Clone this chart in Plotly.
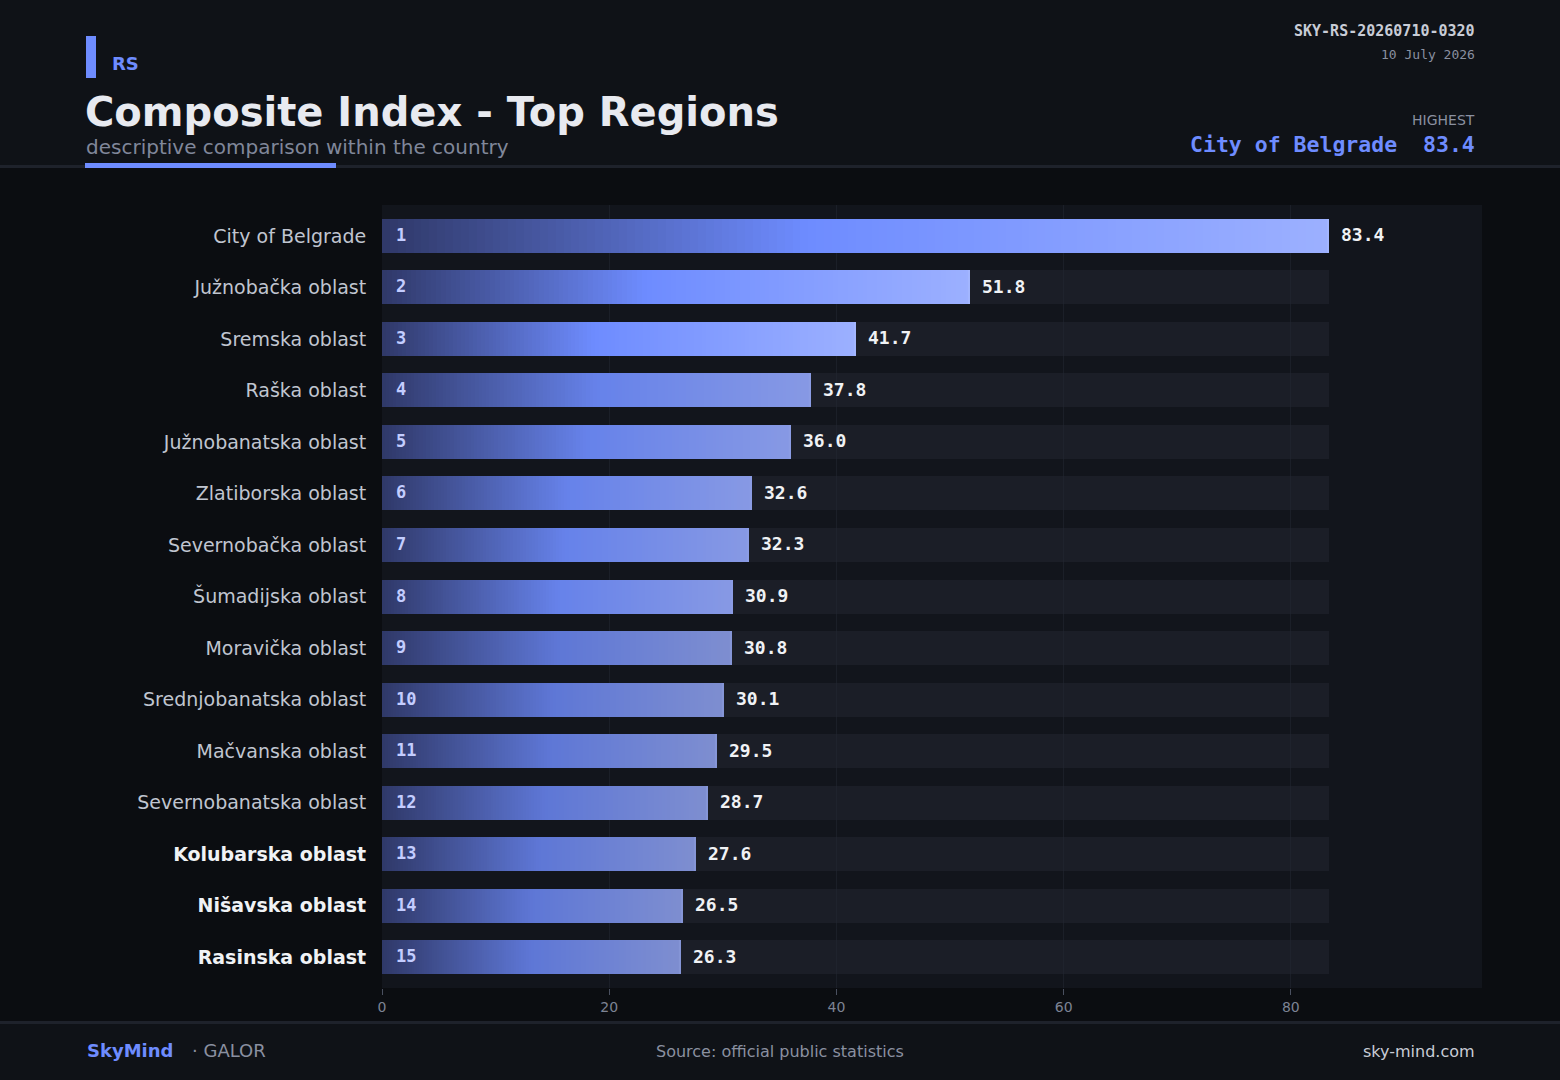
import plotly.graph_objects as go

# ---------------- data ----------------
regions = [
    "City of Belgrade", "Južnobačka oblast", "Sremska oblast", "Raška oblast",
    "Južnobanatska oblast", "Zlatiborska oblast", "Severnobačka oblast",
    "Šumadijska oblast", "Moravička oblast", "Srednjobanatska oblast",
    "Mačvanska oblast", "Severnobanatska oblast", "Kolubarska oblast",
    "Nišavska oblast", "Rasinska oblast",
]
values = [83.4, 51.8, 41.7, 37.8, 36.0, 32.6, 32.3, 30.9, 30.8, 30.1,
          29.5, 28.7, 27.6, 26.5, 26.3]
ranks = list(range(1, len(values) + 1))
bold_labels = {"Kolubarska oblast", "Nišavska oblast", "Rasinska oblast"}
x_ticks = [0, 20, 40, 60, 80]

# ---------------- layout geometry (pixels) ----------------
WIDTH, HEIGHT = 1560, 1080
L, R, T, B = 382, 1482, 205, 988
PW, PH = R - L, B - T


def px(x):
    return (x - L) / PW


def py(y):
    return (B - y) / PH


BG = "#0b0d11"
HEADER = "#0f1217"
PLOT_BG = "#12151c"
ACCENT = "#6e8cff"
MUTED = "#8a90a0"
TEXT = "#e8eaf0"


def hex2rgb(h):
    h = h.lstrip("#")
    return tuple(int(h[i:i + 2], 16) for i in (0, 2, 4))


def mix(a, b, t):
    return tuple(a[i] + (b[i] - a[i]) * t for i in range(3))


def style_for(rank):
    if rank <= 3:
        return hex2rgb("#2f3868"), hex2rgb("#6e8cff"), hex2rgb("#9cb0ff"), 0.45
    if rank <= 8:
        return hex2rgb("#2f3868"), hex2rgb("#6682ea"), hex2rgb("#8799e4"), 0.5
    return hex2rgb("#2f3868"), hex2rgb("#5e77d6"), hex2rgb("#7e8ed0"), 0.5


def grad_color(rank, t):
    c0, c1, c2, m = style_for(rank)
    if t <= m:
        c = mix(c0, c1, t / m)
    else:
        c = mix(c1, c2, (t - m) / (1 - m))
    return "rgb(%d,%d,%d)" % tuple(round(v) for v in c)


ypos = list(range(len(regions)))
vmax = max(values)
bar_w = 0.66

fig = go.Figure()

# track bars
fig.add_trace(go.Bar(
    x=[vmax] * len(values), y=ypos, orientation="h", width=bar_w,
    marker=dict(color="rgba(34,39,50,0.55)", line=dict(width=0)),
    hoverinfo="skip", showlegend=False,
))

# gradient bars built from stacked segments
N = 120
for k in range(N):
    t = (k + 0.5) / N
    fig.add_trace(go.Bar(
        x=[v / N * 1.5 if k < N - 1 else v / N for v in values],
        base=[v * k / N for v in values],
        y=ypos, orientation="h", width=bar_w,
        marker=dict(color=[grad_color(r, t) for r in ranks], line=dict(width=0)),
        hoverinfo="skip", showlegend=False,
    ))

# thin bright end cap
fig.add_trace(go.Bar(
    x=[0.18] * len(values), base=[v - 0.18 for v in values],
    y=ypos, orientation="h", width=bar_w,
    marker=dict(color=["rgba(170,188,255,0.55)" if r <= 3 else "rgba(150,165,230,0.3)" for r in ranks],
                line=dict(width=0)),
    hoverinfo="skip", showlegend=False,
))

annotations = []
# rank numbers inside bars & value labels
for yv, v, r in zip(ypos, values, ranks):
    annotations.append(dict(
        x=0, y=yv, xref="x", yref="y", text="<b>%d</b>" % r, showarrow=False,
        xanchor="left", yanchor="middle", xshift=12, yshift=1,
        font=dict(family="DejaVu Sans Mono", size=17, color="#c3cdff"),
    ))
    annotations.append(dict(
        x=v, y=yv, xref="x", yref="y", text="<b>%.1f</b>" % v, showarrow=False,
        xanchor="left", yanchor="middle", xshift=10, yshift=1,
        font=dict(family="DejaVu Sans Mono", size=18, color="#f0f2f5"),
    ))


def paper_text(x, y, text, size, color, family="DejaVu Sans", anchor="left"):
    annotations.append(dict(
        x=px(x), y=py(y), xref="paper", yref="paper", text=text, showarrow=False,
        xanchor=anchor, yanchor="middle",
        font=dict(family=family, size=size, color=color),
    ))


# header texts
paper_text(110, 63, "<b>RS</b>", 18, ACCENT)
paper_text(83, 112, "<b>Composite Index - Top Regions</b>", 40, TEXT)
paper_text(84, 147, "descriptive comparison within the country", 20, "#80879a")
paper_text(1477, 31, "<b>SKY-RS-20260710-0320</b>", 15, "#c8ccd6", "DejaVu Sans Mono", "right")
paper_text(1477, 54, "10 July 2026", 13, MUTED, "DejaVu Sans Mono", "right")
paper_text(1477, 120, "HIGHEST", 14, MUTED, "DejaVu Sans", "right")
paper_text(1477, 144, "<b>%s  %.1f</b>" % (regions[0], values[0]), 21.5, ACCENT,
           "DejaVu Sans Mono", "right")

# footer texts
paper_text(85, 1050, "<b>SkyMind</b>", 18, ACCENT)
paper_text(190, 1050, "· GALOR", 18, MUTED)
paper_text(780, 1051, "Source: official public statistics", 16, MUTED, anchor="center")
paper_text(1477, 1051, "sky-mind.com", 16, "#c8ccd6", anchor="right")

shapes = [
    dict(type="rect", xref="paper", yref="paper", x0=px(0), x1=px(WIDTH),
         y0=py(0), y1=py(166), fillcolor=HEADER, line=dict(width=0), layer="below"),
    dict(type="rect", xref="paper", yref="paper", x0=px(0), x1=px(WIDTH),
         y0=py(1022), y1=py(HEIGHT), fillcolor=HEADER, line=dict(width=0), layer="below"),
    dict(type="rect", xref="paper", yref="paper", x0=px(0), x1=px(WIDTH),
         y0=py(165), y1=py(168), fillcolor="#1e222b", line=dict(width=0), layer="below"),
    dict(type="rect", xref="paper", yref="paper", x0=px(0), x1=px(WIDTH),
         y0=py(1021), y1=py(1024), fillcolor="#1e222b", line=dict(width=0), layer="below"),
    dict(type="rect", xref="paper", yref="paper", x0=px(85), x1=px(336),
         y0=py(163), y1=py(168), fillcolor=ACCENT, line=dict(width=0)),
    dict(type="rect", xref="paper", yref="paper", x0=px(86), x1=px(96),
         y0=py(36), y1=py(78), fillcolor=ACCENT, line=dict(width=0)),
]

ticktext = []
for name in regions:
    if name in bold_labels:
        ticktext.append("<b><span style='color:#f0f2f5'>%s</span></b>" % name)
    else:
        ticktext.append(name)

fig.update_layout(
    width=WIDTH, height=HEIGHT,
    margin=dict(l=L, r=WIDTH - R, t=T, b=HEIGHT - B, pad=0),
    paper_bgcolor=BG, plot_bgcolor=PLOT_BG,
    barmode="overlay", bargap=0, showlegend=False,
    font=dict(family="DejaVu Sans", color="#c0c5d0"),
    xaxis=dict(
        range=[0, vmax * 1.161], tickvals=x_ticks, ticktext=[str(v) for v in x_ticks],
        showgrid=True, gridcolor="#1b1f28", gridwidth=1, zeroline=False,
        showline=False, ticks="outside", ticklen=6, tickcolor="#4a5060",
        tickfont=dict(family="DejaVu Sans", size=14, color="#7d8394"),
        fixedrange=True,
    ),
    yaxis=dict(
        range=[len(regions) - 1 + 0.6, -0.6], tickvals=ypos, ticktext=ticktext,
        showgrid=False, zeroline=False, showline=False, ticks="outside",
        ticklen=11, tickcolor="rgba(0,0,0,0)",
        tickfont=dict(family="DejaVu Sans", size=19, color="#c0c5d0"),
        fixedrange=True,
    ),
    shapes=shapes, annotations=annotations,
    hovermode=False,
)

fig.write_html("out.html", config={"displayModeBar": False})
